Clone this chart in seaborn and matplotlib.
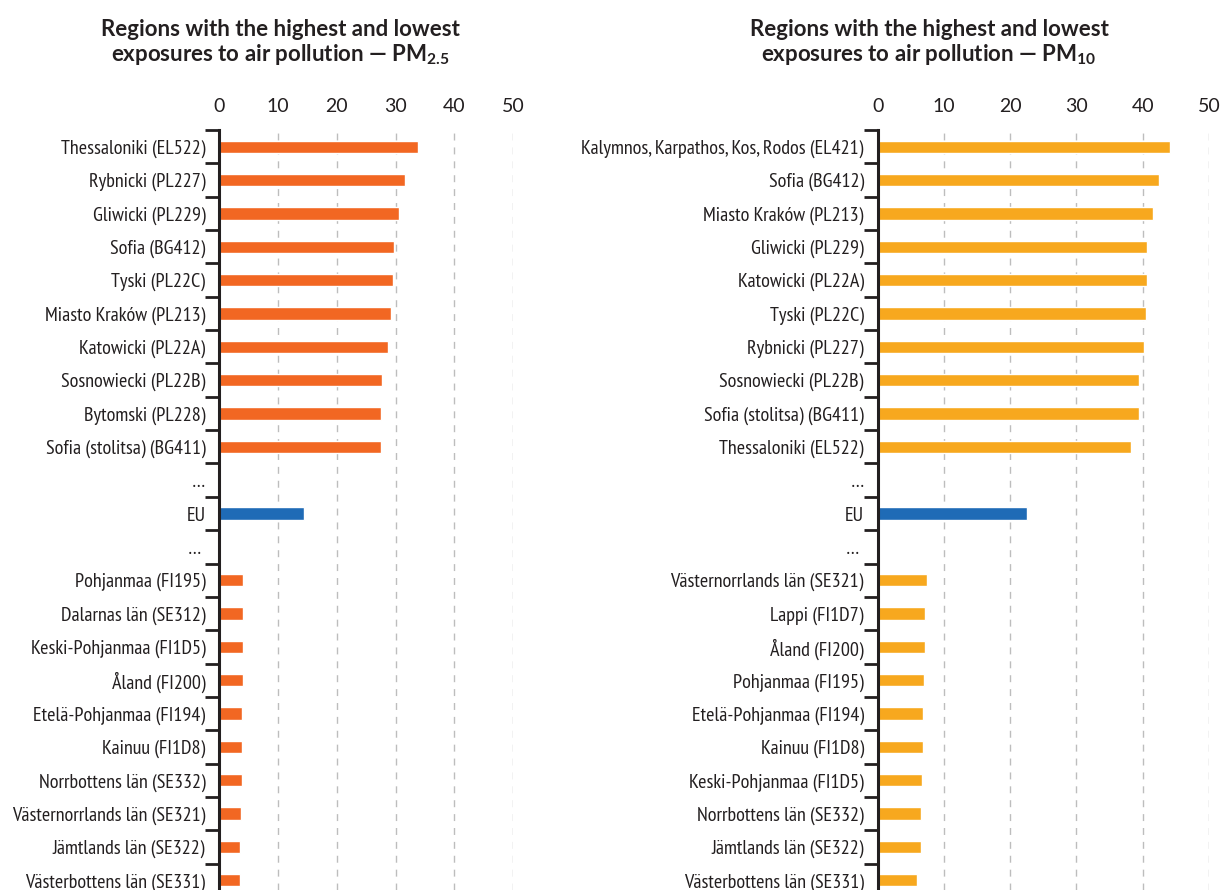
import matplotlib
matplotlib.use("Agg")
import matplotlib.pyplot as plt
import seaborn as sns
import pandas as pd
import numpy as np

# ---- data -------------------------------------------------------------
pm25_regions = [
    "Thessaloniki (EL522)", "Rybnicki (PL227)", "Gliwicki (PL229)", "Sofia (BG412)",
    "Tyski (PL22C)", "Miasto Kraków (PL213)", "Katowicki (PL22A)",
    "Sosnowiecki (PL22B)", "Bytomski (PL228)", "Sofia (stolitsa) (BG411)",
    "…", "EU", "… ",
    "Pohjanmaa (FI195)", "Dalarnas län (SE312)", "Keski-Pohjanmaa (FI1D5)",
    "Åland (FI200)", "Etelä-Pohjanmaa (FI194)", "Kainuu (FI1D8)",
    "Norrbottens län (SE332)", "Västernorrlands län (SE321)",
    "Jämtlands län (SE322)", "Västerbottens län (SE331)",
]
pm25_values = [
    33.8, 31.6, 30.6, 29.8, 29.5, 29.2, 28.8, 27.7, 27.6, 27.5,
    np.nan, 14.4, np.nan,
    4.1, 4.1, 4.0, 4.0, 3.9, 3.9, 3.9, 3.75, 3.5, 3.5,
]

pm10_regions = [
    "Kalymnos, Karpathos, Kos, Rodos (EL421)", "Sofia (BG412)",
    "Miasto Kraków (PL213)", "Gliwicki (PL229)", "Katowicki (PL22A)",
    "Tyski (PL22C)", "Rybnicki (PL227)", "Sosnowiecki (PL22B)",
    "Sofia (stolitsa) (BG411)", "Thessaloniki (EL522)",
    "…", "EU", "… ",
    "Västernorrlands län (SE321)", "Lappi (FI1D7)", "Åland (FI200)",
    "Pohjanmaa (FI195)", "Etelä-Pohjanmaa (FI194)", "Kainuu (FI1D8)",
    "Keski-Pohjanmaa (FI1D5)", "Norrbottens län (SE332)",
    "Jämtlands län (SE322)", "Västerbottens län (SE331)",
]
pm10_values = [
    44.1, 42.5, 41.5, 40.7, 40.7, 40.5, 40.2, 39.5, 39.4, 38.2,
    np.nan, 22.5, np.nan,
    7.4, 7.2, 7.1, 7.0, 6.8, 6.8, 6.7, 6.6, 6.5, 6.0,
]

x_ticks = [0, 10, 20, 30, 40, 50]

# ---- style ------------------------------------------------------------
sns.set_style("white")
NARROW = ["PT Sans Narrow", "Fira Sans Condensed", "IBM Plex Sans Condensed",
          "DejaVu Sans"]
REGULAR = ["Lato", "DejaVu Sans"]
plt.rcParams["font.family"] = NARROW
plt.rcParams["mathtext.fontset"] = "custom"
plt.rcParams["mathtext.rm"] = "Lato:bold"
plt.rcParams["mathtext.bf"] = "Lato:bold"

INK = "#231F20"
EU_BLUE = "#1F6BB6"
GRID = "#BDBDBD"

fig = plt.figure(figsize=(12.24, 8.90), dpi=100)
W, H = 1224, 890


def draw_panel(regions, values, bar_color, left_px, right_px):
    df = pd.DataFrame({"region": regions, "value": values})
    df["group"] = np.where(df["region"] == "EU", "eu", "region")
    ax = fig.add_axes([left_px / W, 0.0, (right_px - left_px) / W, 1 - 130 / H])
    sns.barplot(
        data=df.dropna(), x="value", y="region", order=regions,
        hue="group", palette={"eu": EU_BLUE, "region": bar_color},
        dodge=False, width=0.37, legend=False, ax=ax, saturation=1,
    )
    n = len(regions)
    ax.set_xlim(0, 50)
    ax.set_ylim(22.29, -0.5)
    ax.set_xlabel("")
    ax.set_ylabel("")

    # x axis on top, numbers only
    ax.xaxis.tick_top()
    ax.set_xticks(x_ticks)
    ax.set_xticklabels([str(t) for t in x_ticks],
                       fontfamily=REGULAR, fontsize=14, color=INK)
    ax.tick_params(axis="x", length=0, pad=11)

    # category labels, separators between rows as minor ticks
    ax.set_yticks(range(n))
    ax.set_yticklabels(regions, fontsize=14.5, color=INK)
    ax.tick_params(axis="y", which="major", length=0, pad=10)
    ax.set_yticks(np.arange(-0.5, n - 0.5, 1.0), minor=True)
    ax.tick_params(axis="y", which="minor", length=10, width=2, color=INK,
                   left=True)

    # dashed vertical grid
    for t in x_ticks[1:]:
        ax.axvline(t, color=GRID, lw=1, ls=(0, (5, 5)), zorder=0)

    for s in ["top", "right", "bottom"]:
        ax.spines[s].set_visible(False)
    ax.spines["left"].set_color(INK)
    ax.spines["left"].set_linewidth(2.2)
    return ax


draw_panel(pm25_regions, pm25_values, "#F26722", 219.3, 513.0)
draw_panel(pm10_regions, pm10_values, "#F7A81E", 877.7, 1209.0)

title_kw = dict(ha="center", va="center", fontsize=16, fontweight="bold",
                fontfamily=REGULAR, color=INK, linespacing=1.15)
fig.text(280 / W, 1 - 43 / H,
         "Regions with the highest and lowest\n"
         "exposures to air pollution — PM$_{2.5}$", **title_kw)
fig.text(929 / W, 1 - 43 / H,
         "Regions with the highest and lowest\n"
         "exposures to air pollution — PM$_{10}$", **title_kw)

fig.savefig("out.png", dpi=100)
